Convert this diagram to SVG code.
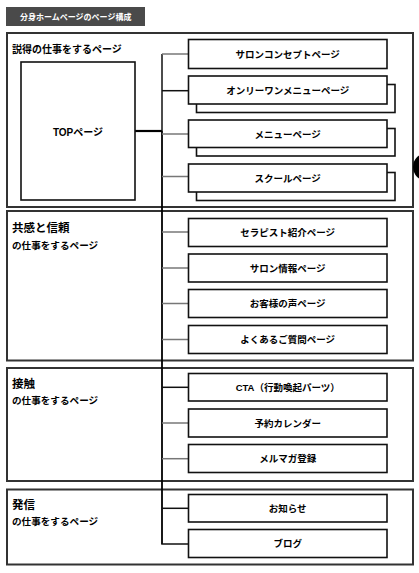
<svg xmlns="http://www.w3.org/2000/svg" width="419" height="573" viewBox="0 0 419 573">
<style>
text{font-family:"Liberation Sans","Noto Sans CJK JP",sans-serif;font-weight:bold;fill:#000}
.sec{fill:#fff;stroke:#333;stroke-width:2}
.pg{fill:#fff;stroke:#111;stroke-width:1.6}
.lbl{font-size:9.5px;text-anchor:middle}
.h1{font-size:11.5px}
.h2{font-size:9.6px}
.g{stroke:#777;stroke-width:1.5;fill:none}
.k{stroke:#111;stroke-width:1.5;fill:none}
</style>
<rect width="419" height="573" fill="#fff"/>
<g id="title">
<rect x="6" y="7" width="139" height="19" fill="#4a4a4a"/>
<text x="20" y="20" font-size="8" style="fill:#fff">分身ホームページのページ構成</text>
</g>
<g id="sections">
<rect class="sec" x="7" y="33" width="406" height="174"/>
<rect class="sec" x="7" y="211" width="406" height="149.5"/>
<rect class="sec" x="7" y="368" width="406" height="113"/>
<rect class="sec" x="7" y="489.5" width="406" height="75"/>
<text x="12" y="53" font-size="10">説得の仕事をするページ</text>
<text class="h1" x="12" y="232">共感と信頼</text>
<text class="h2" x="12" y="249">の仕事をするページ</text>
<text class="h1" x="12" y="388">接触</text>
<text class="h2" x="12" y="404">の仕事をするページ</text>
<text class="h1" x="12" y="509">発信</text>
<text class="h2" x="12" y="525">の仕事をするページ</text>
</g>
<g id="connectors">
<line x1="135" y1="131" x2="162" y2="131" stroke="#000" stroke-width="2.2"/>
<line class="k" x1="162" y1="54" x2="162" y2="131"/>
<line x1="162" y1="131" x2="162" y2="544" stroke="#000" stroke-width="1.8"/>
<polyline class="g" points="162,54 188.5,54"/>
<line class="k" x1="162" y1="90.7" x2="188.5" y2="90.7"/>
<line class="g" x1="162" y1="134" x2="188.5" y2="134"/>
<line class="g" x1="162" y1="176.5" x2="188.5" y2="176.5"/>
<line class="g" x1="162" y1="232" x2="188.5" y2="232"/>
<line class="g" x1="162" y1="268" x2="188.5" y2="268"/>
<line class="g" x1="162" y1="303.5" x2="188.5" y2="303.5"/>
<line class="g" x1="162" y1="339.5" x2="188.5" y2="339.5"/>
<line class="k" x1="162" y1="387.3" x2="188.5" y2="387.3"/>
<line class="g" x1="162" y1="423" x2="188.5" y2="423"/>
<line class="g" x1="162" y1="458.7" x2="188.5" y2="458.7"/>
<line class="k" x1="162" y1="508.3" x2="188.5" y2="508.3"/>
<line class="k" x1="161.2" y1="544" x2="188.5" y2="544"/>
</g>
<g id="top">
<rect class="pg" x="21" y="62" width="114" height="138"/>
<text x="78" y="136" font-size="10" text-anchor="middle">TOPページ</text>
</g>
<g id="p1"><rect class="pg" x="188.5" y="39.5" width="198.5" height="29"/><text class="lbl" x="287.7" y="57.5">サロンコンセプトページ</text></g>
<g id="p2"><rect class="pg" x="196.5" y="84.5" width="198.5" height="28"/><rect class="pg" x="188.5" y="76" width="198.5" height="28"/><text class="lbl" x="287.7" y="93.5">オンリーワンメニューページ</text></g>
<g id="p3"><rect class="pg" x="196.5" y="128.5" width="198.5" height="27.5"/><rect class="pg" x="188.5" y="120" width="198.5" height="27.5"/><text class="lbl" x="287.7" y="137.5">メニューページ</text></g>
<g id="p4"><rect class="pg" x="196.5" y="172.5" width="198.5" height="28"/><rect class="pg" x="188.5" y="164" width="198.5" height="28"/><text class="lbl" x="287.7" y="181.5">スクールページ</text></g>
<g id="p5"><rect class="pg" x="188.5" y="218.5" width="198.5" height="28"/><text class="lbl" x="287.7" y="236">セラピスト紹介ページ</text></g>
<g id="p6"><rect class="pg" x="188.5" y="254" width="198.5" height="28"/><text class="lbl" x="287.7" y="271.5">サロン情報ページ</text></g>
<g id="p7"><rect class="pg" x="188.5" y="289.5" width="198.5" height="28"/><text class="lbl" x="287.7" y="307">お客様の声ページ</text></g>
<g id="p8"><rect class="pg" x="188.5" y="325.5" width="198.5" height="28"/><text class="lbl" x="287.7" y="343">よくあるご質問ページ</text></g>
<g id="p9"><rect class="pg" x="188.5" y="373.5" width="198.5" height="27.5"/><text class="lbl" x="287.7" y="391">CTA（行動喚起パーツ）</text></g>
<g id="p10"><rect class="pg" x="188.5" y="409" width="198.5" height="28"/><text class="lbl" x="287.7" y="426.5">予約カレンダー</text></g>
<g id="p11"><rect class="pg" x="188.5" y="444.5" width="198.5" height="28"/><text class="lbl" x="287.7" y="462">メルマガ登録</text></g>
<g id="p12"><rect class="pg" x="188.5" y="494.5" width="198.5" height="27.5"/><text class="lbl" x="287.7" y="512">お知らせ</text></g>
<g id="p13"><rect class="pg" x="188.5" y="529.5" width="198.5" height="28"/><text class="lbl" x="287.7" y="547">ブログ</text></g>
<g id="badge">
<circle cx="427" cy="167" r="14" fill="#000"/>
</g>
</svg>
